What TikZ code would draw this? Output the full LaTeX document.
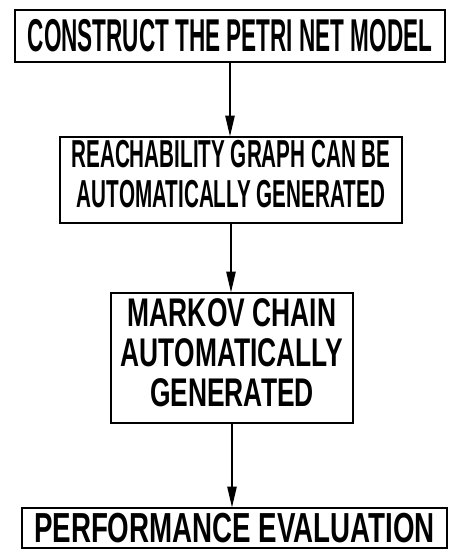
\documentclass[tikz,border=0pt]{standalone}
\usepackage{fontspec}
\usepackage{graphicx}
\setmainfont{Liberation Sans}
\usetikzlibrary{arrows.meta}
\newcommand{\sqz}[3]{\scalebox{#1}[1]{\fontsize{#2}{#2}\selectfont\bfseries\setlength{\tabcolsep}{0pt}\begin{tabular}{c}#3\end{tabular}}}
\tikzset{
  box/.style={draw=black, line width=2.6pt, inner sep=0pt, anchor=center},
  flow/.style={line width=2.4pt, -{Triangle[length=21pt,width=9pt]}, shorten >=-1pt}
}
\begin{document}
\begin{tikzpicture}[x=1pt,y=-1pt]
\useasboundingbox[fill=white] (0,0) rectangle (450,550);
\node[box, minimum width=430pt, minimum height=52pt] (b1) at (230,36)
  {\fontsize{46}{46}\selectfont\bfseries\scalebox{0.49}[1]{CONSTRUCT THE PETRI NET MODEL}};
\node[box, minimum width=342pt, minimum height=86pt] (b2) at (231,180)
  {\sqz{0.53}{39}{REACHABILITY GRAPH CAN BE\\[1pt]AUTOMATICALLY GENERATED}};
\node[box, minimum width=242pt, minimum height=130pt] (b3) at (232,358)
  {\sqz{0.66}{40}{MARKOV CHAIN\\AUTOMATICALLY\\GENERATED}};
\node[box, minimum width=425pt, minimum height=40pt] (b4) at (234.5,528)
  {\fontsize{42}{42}\selectfont\bfseries\scalebox{0.66}[1]{PERFORMANCE EVALUATION}};
\draw[flow] (b1.south) -- (b1.south |- b2.north);
\draw[flow] (b2.south) -- (b2.south |- b3.north);
\draw[flow] (b3.south) -- (b3.south |- b4.north);
\end{tikzpicture}
\end{document}
